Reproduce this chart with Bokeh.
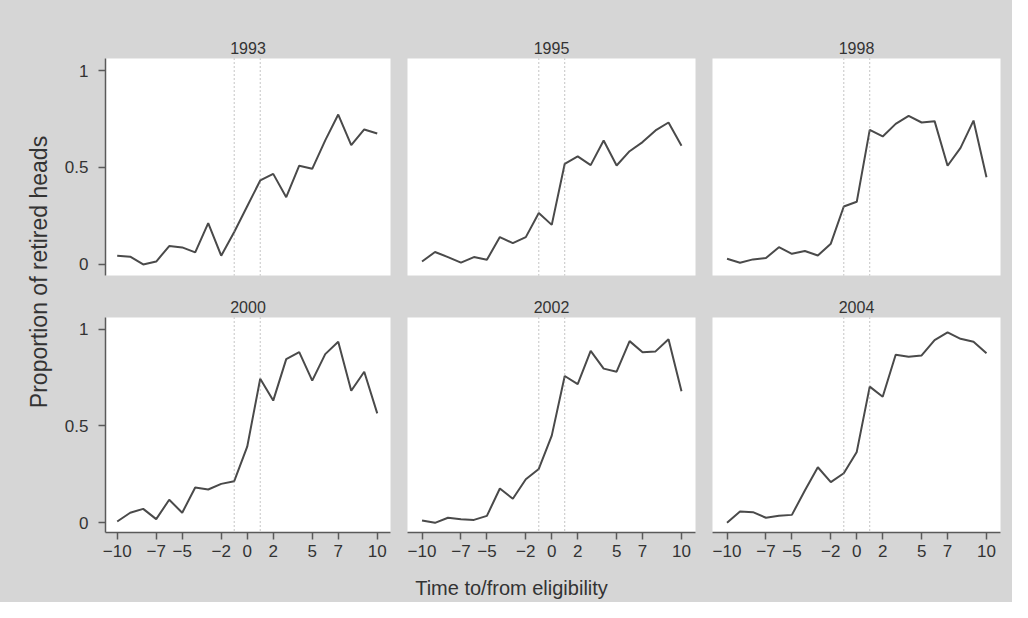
import math
from bokeh.plotting import figure
from bokeh.layouts import row, column
from bokeh.models import Range1d, Span, Label, FixedTicker
from bokeh.embed import file_html
from bokeh.resources import INLINE

# ---------------- data ----------------
t = list(range(-10, 11))
panel_titles = ["1993", "1995", "1998", "2000", "2002", "2004"]

y1993 = [0.045, 0.040, 0.000, 0.015, 0.095, 0.088, 0.062, 0.213, 0.045, 0.167, 0.300,
         0.433, 0.467, 0.347, 0.509, 0.493, 0.640, 0.773, 0.615, 0.696, 0.675]
y1995 = [0.015, 0.064, 0.038, 0.009, 0.038, 0.024, 0.141, 0.110, 0.141, 0.265, 0.204,
         0.519, 0.557, 0.512, 0.639, 0.510, 0.584, 0.631, 0.691, 0.732, 0.612]
y1998 = [0.029, 0.009, 0.026, 0.033, 0.089, 0.055, 0.069, 0.046, 0.107, 0.299, 0.323,
         0.694, 0.660, 0.725, 0.766, 0.732, 0.739, 0.509, 0.601, 0.742, 0.450]
y2000 = [0.007, 0.052, 0.072, 0.019, 0.119, 0.052, 0.182, 0.172, 0.201, 0.215, 0.393,
         0.744, 0.631, 0.845, 0.881, 0.734, 0.871, 0.935, 0.682, 0.780, 0.565]
y2002 = [0.012, 0.000, 0.026, 0.019, 0.015, 0.036, 0.177, 0.124, 0.225, 0.278, 0.450,
         0.758, 0.716, 0.888, 0.796, 0.780, 0.938, 0.881, 0.885, 0.948, 0.679]
y2004 = [0.000, 0.058, 0.055, 0.026, 0.036, 0.041, 0.167, 0.287, 0.210, 0.256, 0.366,
         0.703, 0.651, 0.868, 0.857, 0.864, 0.943, 0.983, 0.950, 0.935, 0.875]
series = [y1993, y1995, y1998, y2000, y2002, y2004]

x_ticks = [-10, -7, -5, -2, 0, 2, 5, 7, 10]
x_tick_labels = ["\u221210", "\u22127", "\u22125", "\u22122", "0", "2", "5", "7", "10"]
y_ticks = [0, 0.5, 1]
y_tick_labels = ["0", "0.5", "1"]
eligibility_marks = [-1, 1]
x_label = "Time to/from eligibility"
y_label = "Proportion of retired heads"

# ---------------- style ----------------
BG = "#d6d6d6"
FONT = "Liberation Sans"
TXT = "#333333"
LINE = "#4a4a4a"
AX = "#5a5a5a"
BGSTYLE = {"background-color": BG}

TOTAL_W, TOTAL_H = 1012, 602
YLAB_W = 58
col_frame_w = [285, 288, 288]
col_border = [(47, 8), (9, 8), (9, 12)]
col_xrange = [(-10.9, 11.02), (-11.12, 11.08), (-11.12, 11.08)]
row_frame_h = [217, 215]
row_border = [(58, 10), (32, 34)]
row_yrange = [(-0.057, 1.062), (-0.05, 1.06)]
XLAB_H = TOTAL_H - sum(row_frame_h) - sum(a + b for a, b in row_border)


def make_panel(i):
    r, c = divmod(i, 3)
    p = figure(
        frame_width=col_frame_w[c], frame_height=row_frame_h[r],
        x_range=Range1d(*col_xrange[c]), y_range=Range1d(*row_yrange[r]),
        x_axis_location="below" if r == 1 else None,
        y_axis_location="left" if c == 0 else None,
        toolbar_location=None, output_backend="svg",
        min_border_left=col_border[c][0], min_border_right=col_border[c][1],
        min_border_top=row_border[r][0], min_border_bottom=row_border[r][1],
    )
    p.background_fill_color = "white"
    p.border_fill_color = BG
    p.outline_line_color = None
    p.grid.visible = False

    p.title.text = panel_titles[i]
    p.title.align = "center"
    p.title.text_font = FONT
    p.title.text_font_size = "16px"
    p.title.text_font_style = "normal"
    p.title.text_color = TXT
    p.title.standoff = 10

    for ax in p.axis:
        ax.axis_line_color = AX
        ax.axis_line_width = 1.5
        ax.major_tick_line_color = AX
        ax.major_tick_line_width = 1.5
        ax.major_tick_out = 7
        ax.major_tick_in = 0
        ax.minor_tick_line_color = None
        ax.major_label_text_font = FONT
        ax.major_label_text_font_size = "17px"
        ax.major_label_text_color = TXT
    if r == 1:
        p.xaxis.ticker = FixedTicker(ticks=x_ticks)
        p.xaxis.major_label_overrides = dict(zip(x_ticks, x_tick_labels))
        p.xaxis.major_label_standoff = 5
    if c == 0:
        p.yaxis.ticker = FixedTicker(ticks=y_ticks)
        p.yaxis.major_label_overrides = dict(zip(y_ticks, y_tick_labels))
        p.yaxis.major_label_standoff = 10

    for m in eligibility_marks:
        p.add_layout(Span(location=m, dimension="height", line_color="#8a8a8a",
                          line_width=1, line_dash="1 3"))
    p.line(t, series[i], line_color=LINE, line_width=2)
    return p


def strip(w, h):
    s = figure(width=w, height=h, x_range=Range1d(0, w), y_range=Range1d(0, h),
               x_axis_location=None, y_axis_location=None, toolbar_location=None,
               output_backend="svg", min_border=0)
    s.background_fill_color = BG
    s.border_fill_color = BG
    s.outline_line_color = None
    s.grid.visible = False
    return s


panels = [make_panel(i) for i in range(6)]

# y-axis label strip (full height, left)
ylab = strip(YLAB_W, TOTAL_H)
ylab.add_layout(Label(x=38, y=TOTAL_H - 271.5, text=y_label, angle=math.pi / 2,
                      text_align="center", text_baseline="middle",
                      text_font=FONT, text_font_size="23px", text_color=TXT))

# x-axis label strip (bottom)
xlab_w = TOTAL_W - YLAB_W
xlab = strip(xlab_w, XLAB_H)
xlab.add_layout(Label(x=511 - YLAB_W, y=XLAB_H - (587 - (TOTAL_H - XLAB_H)), text=x_label,
                      text_align="center", text_baseline="alphabetic",
                      text_font=FONT, text_font_size="20px", text_color=TXT))

layout = row(
    ylab,
    column(row(*panels[:3], styles=BGSTYLE), row(*panels[3:], styles=BGSTYLE), xlab,
           styles=BGSTYLE),
    styles=BGSTYLE,
)

open("out.html", "w").write(file_html(layout, INLINE))
